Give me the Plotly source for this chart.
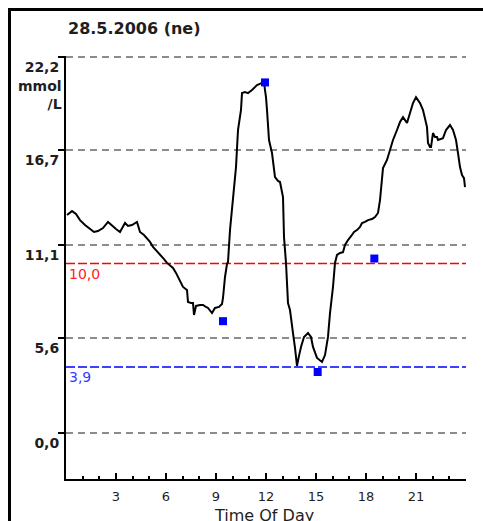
import plotly.graph_objects as go

# Continuous glucose trace (time of day in hours, mmol/L)
hours = [0.06, 0.36, 0.60, 0.84, 1.14, 1.44, 1.68, 1.92, 2.22, 2.52, 2.82, 3.00, 3.24, 3.54, 3.72,
         3.96, 4.26, 4.44, 4.68, 4.86, 5.04, 5.22, 5.46, 5.64, 5.88, 6.06, 6.24, 6.42, 6.60, 6.72,
         6.90, 7.02, 7.26, 7.32, 7.50, 7.62, 7.68, 7.80, 8.04, 8.22, 8.40, 8.52, 8.76, 8.94, 9.18,
         9.36, 9.42, 9.54, 9.66, 9.72, 9.84, 10.02, 10.20, 10.32, 10.50, 10.56, 10.74, 10.92, 11.16,
         11.46, 11.76, 11.88, 11.94, 12.00, 12.06, 12.18, 12.36, 12.54, 12.72, 12.84, 13.02, 13.08,
         13.20, 13.32, 13.44, 13.56, 13.62, 13.74, 13.86, 13.98, 14.10, 14.28, 14.52, 14.70, 14.82,
         15.06, 15.36, 15.54, 15.72, 15.84, 16.02, 16.14, 16.26, 16.44, 16.62, 16.74, 16.92, 17.16,
         17.28, 17.46, 17.64, 17.76, 17.94, 18.12, 18.36, 18.54, 18.72, 18.84, 18.90, 18.96, 19.02,
         19.26, 19.44, 19.62, 19.86, 20.04, 20.22, 20.34, 20.46, 20.64, 20.82, 21.00, 21.12, 21.24,
         21.42, 21.66, 21.72, 21.84, 21.90, 22.02, 22.14, 22.26, 22.32, 22.44, 22.62, 22.80, 23.04,
         23.22, 23.40, 23.52, 23.64, 23.76, 23.88, 23.94]
glucose = [12.87, 13.10, 12.93, 12.57, 12.28, 12.04, 11.87, 11.92, 12.10, 12.46, 12.16, 12.04, 11.87,
           12.40, 12.22, 12.28, 12.46, 11.87, 11.69, 11.51, 11.28, 10.98, 10.74, 10.51, 10.27, 10.04,
           9.86, 9.74, 9.45, 9.21, 8.85, 8.62, 8.44, 7.73, 7.67, 7.67, 6.97, 7.50, 7.56, 7.56, 7.44,
           7.38, 7.08, 7.38, 7.44, 7.62, 7.97, 9.21, 9.98, 10.09, 11.98, 13.93, 15.70, 17.89, 19.07,
           20.07, 20.13, 20.07, 20.25, 20.54, 20.66, 20.72, 20.25, 19.83, 19.07, 17.30, 16.53, 15.11,
           14.88, 14.82, 13.93, 11.57, 10.04, 7.67, 7.26, 6.49, 5.90, 5.02, 3.96, 4.55, 5.08, 5.67,
           5.90, 5.67, 5.08, 4.43, 4.19, 4.60, 5.67, 7.08, 8.62, 10.04, 10.51, 10.63, 10.68, 11.10,
           11.39, 11.69, 11.87, 11.98, 12.16, 12.40, 12.46, 12.57, 12.63, 12.75, 12.99, 13.75, 14.34,
           14.76, 15.64, 16.12, 16.71, 17.30, 17.89, 18.36, 18.65, 18.48, 18.30, 18.89, 19.48, 19.83,
           19.66, 19.48, 19.07, 18.06, 17.12, 16.88, 16.88, 17.71, 17.47, 17.47, 17.30, 17.36, 17.41,
           17.89, 18.18, 17.89, 17.30, 16.53, 15.70, 15.23, 15.05, 14.52]

# Finger-stick meter readings
meter_hours = [9.42, 11.94, 15.10, 18.50]
meter_values = [6.6, 20.7, 3.6, 10.3]

# Axis ticks
y_ticks = [0.0, 5.6, 11.1, 16.7, 22.2]
y_tick_text = ["0,0", "5,6", "11,1", "16,7", "22,2"]
x_ticks = [3, 6, 9, 12, 15, 18, 21]
x_tick_text = ["3", "6", "9", "12", "15", "18", "21"]
x_minor = [h for h in range(1, 24) if h % 3]

# Target range limits
high_limit = 10.0
low_limit = 3.9
high_text = "10,0"
low_text = "3,9"

title_text = "28.5.2006 (ne)"
unit_text = "mmol<br>/L"
x_title = "Time Of Day"

BOLD = "DejaVu Sans"
TEXT = "#1e1e1e"
GRID = "#8c8c8c"
GRID_DASH = "7px,5px"

fig = go.Figure()

fig.add_trace(go.Scatter(
    x=hours, y=glucose, mode="lines",
    line=dict(color="black", width=2),
    hoverinfo="skip", showlegend=False,
))
fig.add_trace(go.Scatter(
    x=meter_hours, y=meter_values, mode="markers",
    marker=dict(symbol="square", size=8, color="#0000ff", line=dict(width=0)),
    hoverinfo="skip", showlegend=False,
))

# Top grid line sits on the upper edge of the plot, so draw it explicitly
fig.add_shape(type="line", xref="x", yref="y", x0=0, x1=24, y0=y_ticks[-1], y1=y_ticks[-1],
              line=dict(color=GRID, width=1.5, dash=GRID_DASH), layer="below")

# Target range lines
fig.add_shape(type="line", xref="x", yref="y", x0=0, x1=24, y0=high_limit, y1=high_limit,
              line=dict(color="#ff0000", width=1.5, dash="9px,3px"), layer="below")
fig.add_shape(type="line", xref="x", yref="y", x0=0, x1=24, y0=low_limit, y1=low_limit,
              line=dict(color="#0000ff", width=1.5, dash="9px,3px"), layer="below")

fig.add_annotation(x=0, y=high_limit, xref="x", yref="y", text=high_text, showarrow=False,
                   xanchor="left", yanchor="middle", xshift=1, yshift=-10,
                   font=dict(family="DejaVu Sans", size=14, color="#ff2020"))
fig.add_annotation(x=0, y=low_limit, xref="x", yref="y", text=low_text, showarrow=False,
                   xanchor="left", yanchor="middle", xshift=1, yshift=-10,
                   font=dict(family="DejaVu Sans", size=14, color="#3a3aff"))

# Unit label under the top tick
fig.add_annotation(x=0, y=y_ticks[-1], xref="paper", yref="y", text=unit_text, showarrow=False,
                   xanchor="right", yanchor="middle", align="right", xshift=-2, yshift=-38,
                   font=dict(family=BOLD, size=14, color=TEXT, weight="bold"))

# Title
fig.add_annotation(x=0.0, y=1.064, xref="paper", yref="paper", text=title_text, showarrow=False,
                   xanchor="left", yanchor="middle",
                   font=dict(family=BOLD, size=16, color=TEXT, weight="bold"))

# X axis title, partly running off the bottom edge
fig.add_annotation(x=0.495, y=-0.086, xref="paper", yref="paper", text=x_title, showarrow=False,
                   xanchor="center", yanchor="middle",
                   font=dict(family="DejaVu Sans", size=16, color=TEXT))

# Frame around the chart
fig.add_shape(type="line", xref="paper", yref="paper", x0=-0.14125, x1=-0.14125, y0=1.1102, y1=-0.13,
              line=dict(color="black", width=3))
fig.add_shape(type="line", xref="paper", yref="paper", x0=-0.145, x1=1.08, y0=1.1102, y1=1.1102,
              line=dict(color="black", width=3))

fig.update_xaxes(
    range=[0, 24], tickvals=x_ticks, ticktext=x_tick_text,
    ticks="inside", ticklen=6, tickwidth=1.5, tickcolor="black",
    minor=dict(tickvals=x_minor, ticks="inside", ticklen=3, tickwidth=1.5, tickcolor="black", showgrid=False),
    showline=True, linecolor="black", linewidth=2,
    showgrid=False, zeroline=False, automargin=False,
    tickfont=dict(family="DejaVu Sans", size=13, color=TEXT),
    ticklabelstandoff=4,
)
fig.update_yaxes(
    range=[-2.72, 22.26], tickvals=y_ticks, ticktext=y_tick_text,
    ticks="outside", ticklen=6, tickwidth=1.5, tickcolor="black",
    showline=True, linecolor="black", linewidth=2,
    showgrid=True, gridcolor=GRID, gridwidth=1.5, griddash=GRID_DASH,
    zeroline=False, automargin=False,
    tickfont=dict(family=BOLD, size=14, color=TEXT, weight="bold"),
    ticklabelshift=10, ticklabelstandoff=-4,
)

fig.update_layout(
    width=483, height=521,
    margin=dict(l=66, r=17, t=56, b=42),
    plot_bgcolor="white", paper_bgcolor="white",
    showlegend=False,
)

fig.write_html("out.html")
